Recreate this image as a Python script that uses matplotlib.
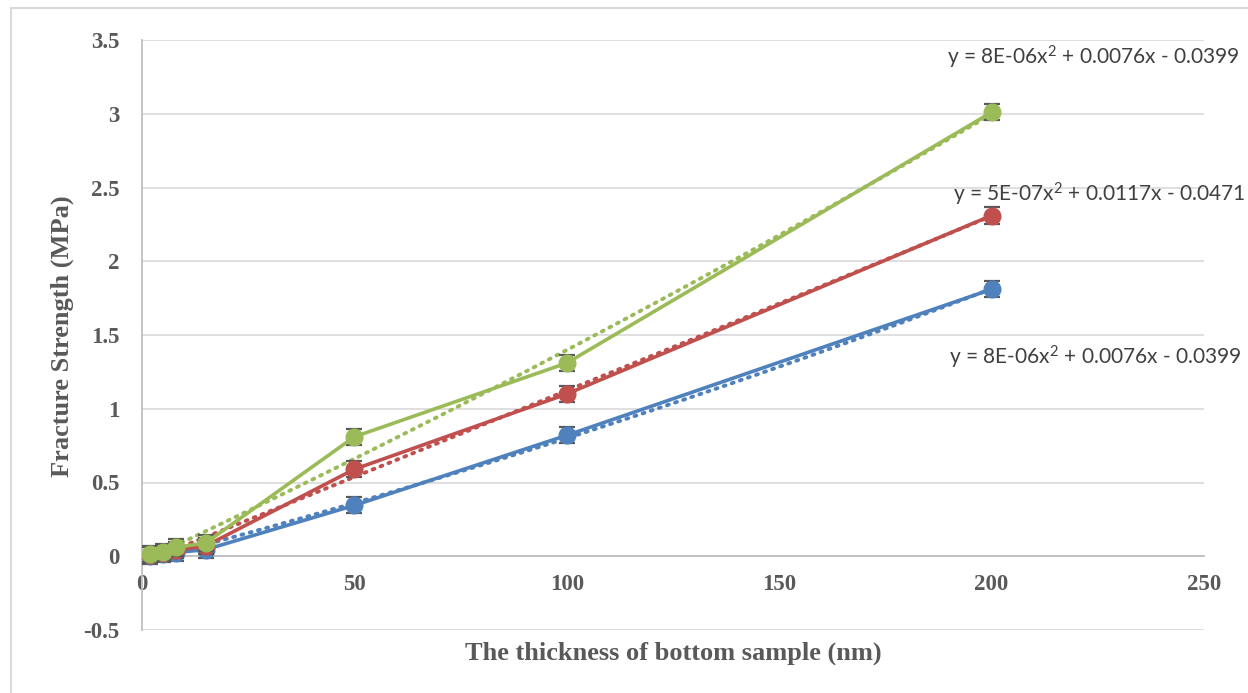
import numpy as np
import matplotlib
matplotlib.use('Agg')
import matplotlib.pyplot as plt
from matplotlib.patches import Rectangle
from matplotlib.ticker import FuncFormatter

plt.rcParams['mathtext.fontset'] = 'custom'
plt.rcParams['mathtext.rm'] = 'Lato'
plt.rcParams['mathtext.it'] = 'Lato:italic'

# data
thickness = [2, 5, 8, 15, 50, 100, 200]
blue_vals = [0.005, 0.015, 0.025, 0.045, 0.345, 0.82, 1.81]
red_vals = [0.01, 0.02, 0.04, 0.07, 0.59, 1.10, 2.31]
green_vals = [0.015, 0.03, 0.06, 0.09, 0.81, 1.31, 3.01]
err = 0.055

series = [
    (blue_vals, '#4F81BD'),
    (red_vals, '#C0504D'),
    (green_vals, '#9BBB59'),
]

equations = [
    (189.5, 3.38, r'y = 8E-06x$^{\mathrm{2}}$ + 0.0076x - 0.0399'),
    (191.0, 2.45, r'y = 5E-07x$^{\mathrm{2}}$ + 0.0117x - 0.0471'),
    (190.0, 1.35, r'y = 8E-06x$^{\mathrm{2}}$ + 0.0076x - 0.0399'),
]

fig = plt.figure(figsize=(12.48, 6.93), dpi=100)
fig.patches.append(Rectangle((11 / 1248, -0.05), 1.1, 1 - 8 / 693 + 0.05,
                             transform=fig.transFigure, fill=False,
                             edgecolor='#D9D9D9', lw=1.5))
ax = fig.add_axes([142 / 1248, 63 / 693, 1062 / 1248, 590 / 693])

x = np.array(thickness, dtype=float)
xs = np.linspace(x.min(), x.max(), 200)
for vals, color in series:
    y = np.array(vals)
    coef = np.polyfit(x, y, 2)
    ax.plot(xs, np.polyval(coef, xs), color=color, lw=2.8, ls=(0, (0.5, 1.7)),
            dash_capstyle='round', zorder=3)
z = 4
for vals, color in series:
    ax.errorbar(thickness, vals, yerr=err, fmt='none', ecolor='#595959',
                elinewidth=1.2, capsize=5.5, capthick=1.6, zorder=z)
    ax.plot(thickness, vals, color=color, lw=2.6, marker='o', markersize=12,
            zorder=z + 0.5)
    z += 1

for ex, ey, txt in equations:
    ax.text(ex, ey, txt, fontsize=15, family='Lato', color='#404040',
            va='center', ha='left')

ax.set_xlim(0, 250)
ax.set_ylim(-0.5, 3.5)
ax.set_xticks(np.arange(0, 251, 50))
ax.set_yticks(np.arange(-0.5, 3.51, 0.5))
ax.yaxis.set_major_formatter(FuncFormatter(lambda v, p: '%g' % v))
ax.grid(axis='y', color='#D9D9D9', lw=1.2)
ax.set_axisbelow(True)

for s in ['top', 'right']:
    ax.spines[s].set_visible(False)
ax.spines['bottom'].set_position(('data', 0))
ax.spines['bottom'].set_color('#BFBFBF')
ax.spines['bottom'].set_linewidth(1.3)
ax.spines['left'].set_color('#BFBFBF')
ax.spines['left'].set_linewidth(1.3)

tick_font = dict(family='Liberation Serif', weight='bold', size=16.5)
ax.tick_params(axis='both', length=0, labelcolor='#595959')
ax.tick_params(axis='x', pad=13)
ax.tick_params(axis='y', pad=16)
for lab in ax.get_xticklabels() + ax.get_yticklabels():
    lab.set_fontproperties(tick_font)

fig.text(673 / 1248, 1 - 653 / 693, 'The thickness of bottom sample (nm)',
         ha='center', va='center', color='#595959', family='Liberation Serif',
         weight='bold', size=19)
fig.text(62 / 1248, 1 - 336 / 693, 'Fracture Strength (MPa)', rotation=90,
         ha='center', va='center', color='#595959', family='Liberation Serif',
         weight='bold', size=19)

fig.savefig('out.png', dpi=100)
